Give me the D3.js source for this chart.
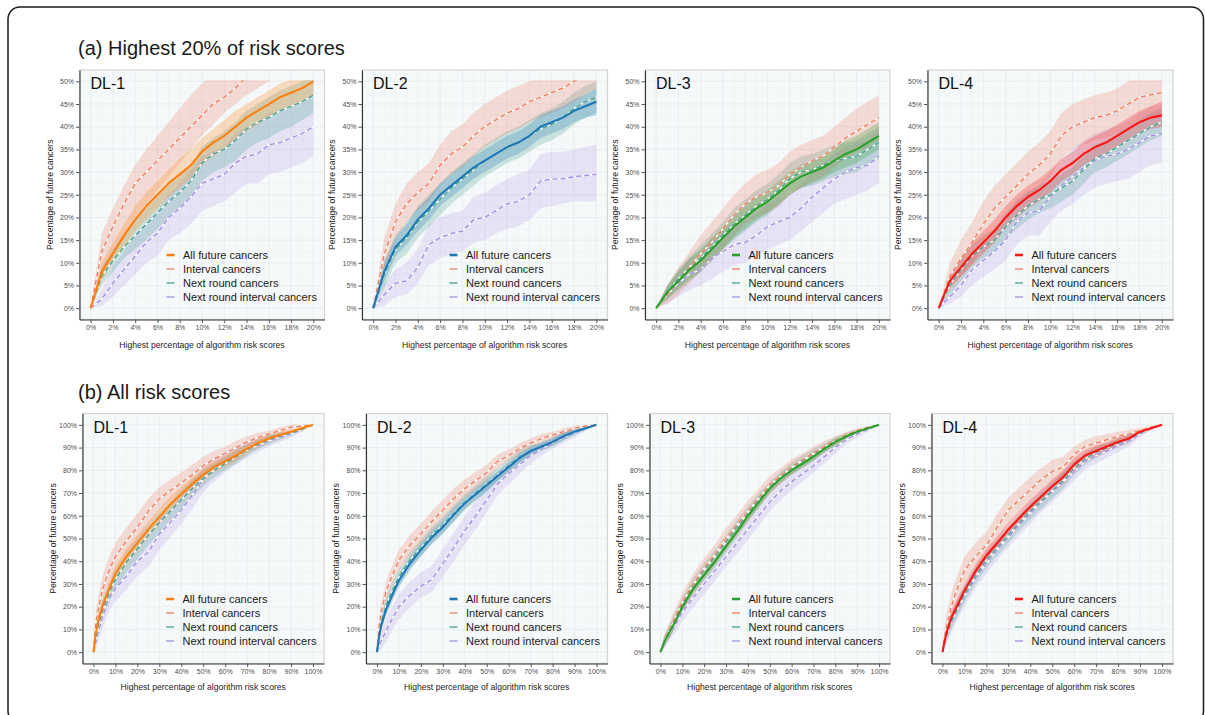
<!DOCTYPE html>
<html>
<head>
<meta charset="utf-8">
<script src="https://cdn.jsdelivr.net/npm/d3@7"></script>
<style>
body { margin: 0; background: #fff; }
svg { display: block; font-family: "Liberation Sans", Arial, Helvetica, sans-serif; }
</style>
</head>
<body>
<svg id="canvas"></svg>
<script>
const w = 1205,
h = 715;

// x positions of the curves (percent of highest risk scores)
const xTop = [0,1,2,3,4,5,6,7,8,9,10,11,12,13,14,15,16,17,18,19,20];
const xAll = [0,1,2,4,6,8,10,15,20,25,30,35,40,45,50,55,60,65,70,75,80,85,90,95,100];

const seriesNames = ["All future cancers", "Interval cancers", "Next round cancers", "Next round interval cancers"];
const modelNames = ["DL-1", "DL-2", "DL-3", "DL-4"];
const modelColors = ["#ff7f0e", "#1f77b4", "#2ca02c", "#ff1414"];
const otherColors = ["#ec7a5c", "#3f9e89", "#a38ce0"];

const topXTicks = [0,2,4,6,8,10,12,14,16,18,20];
const topXMinor = [1,3,5,7,9,11,13,15,17,19];
const topYTicks = [0,5,10,15,20,25,30,35,40,45,50];
const topYMinor = [2.5,7.5,12.5,17.5,22.5,27.5,32.5,37.5,42.5,47.5];
const allTicks = [0,10,20,30,40,50,60,70,80,90,100];
const allMinor = [5,15,25,35,45,55,65,75,85,95];

// rows: all future, interval, next round, next round interval
// (a) highest 20%
const topDL1 = [
  [0,8,12,16,19.5,22.5,25,27.5,29.5,31.5,34.5,36.5,38,40,42,43.5,45,46.5,47.5,48.5,50],
  [0,12.5,18,23,27.5,30,32.5,35,37.5,40,42.5,45,46.5,48.5,51,53,55,57,59,61,63],
  [0,7,10.5,13.5,16,18.5,21,23.5,25.5,28,32,34,35,37,39.5,41,42,43.5,44.5,45.5,47],
  [0,2,5.5,8.5,11.5,14.5,16.5,20,22,24.5,27.5,28.5,29.5,32,33.5,34,36,36.5,37.5,38.5,40]];
const topDL1Lo = [
  [0,6,10,13.5,17,19.5,22,24.5,26.5,28.5,31.5,33.5,35,37,39,40.5,42,43.5,44.5,45.5,47],
  [0,7,12,16,20,23,26,29,32,35,38,40.5,43,45,47,48.5,50,52,54,56,58],
  [0,5,8,11,13,15,17.5,20,22,24.5,28,30,31,32.5,35,36.5,37.5,39,40,41.5,43],
  [0,0.5,2.5,5,7.5,10,11.5,15,16.5,18.5,21.5,22.5,23.5,25.5,27.5,27.5,29.5,30,31,32,33.5]];
const topDL1Hi = [
  [0,10,14.5,18.5,22.5,25.5,28,30.5,33,35,37.5,39.5,41.5,43.5,45,46.5,48,49.5,50.5,51.5,53],
  [0,16.5,22,27,31.5,35,38,41,44,47,49.5,52,55,57,60,62,64,66,68,70,72],
  [0,9,13,16.5,19.5,22,24.5,27,29,31.5,35.5,37.5,39,41,43.5,45,46.5,48,49,50,51],
  [0,4,9,12.5,16,19,21.5,25,27.5,30.5,33.5,34.5,35.5,38.5,40,41,43,43.5,44.5,45.5,47]];

const topDL2 = [
  [0,8,13.5,16,19.5,22,25,27,29,31,32.5,34,35.5,36.5,38,40,41,42,43.5,44.5,45.5],
  [0,12,19,23,25.5,27.5,31.5,34,35.5,38,40,41.5,43,44,45.5,46.5,47.5,48.5,50,51.5,53],
  [0,7.5,13,15.5,19,21.5,24,26.5,28.5,30.5,32.5,34,35.5,36.5,38,39.5,40.5,42,44,45.5,46.5],
  [0,3,5.5,6,9,14,15.5,16.5,17,19.5,20,21.5,23,23.5,25,28,28.5,28.5,29,29.2,29.5]];
const topDL2Lo = [
  [0,6,11.5,14,17,19.5,22.5,24.5,26.5,28.5,30,31.5,33,34,35.5,37.5,38.5,39.5,41,42,42.5],
  [0,8,15,19,21.5,23.5,27,29.5,31,33.5,35.5,37,38.5,39.5,41,42,43,44,45.5,47,48.5],
  [0,4.5,10,12,15.5,18,20.5,23,25,27,29,30.5,32,33,34.5,36,37,38.5,40.5,42,43],
  [0,0.5,2.5,3,5.5,9.5,11,12,12.5,14.5,15,16.5,17.5,18,19.5,22,22.5,23,23.5,23.5,23.5]];
const topDL2Hi = [
  [0,10,15.5,18.5,22,24.5,27.5,29.5,31.5,33.5,35,36.5,38,39,40.5,42.5,43.5,44.5,46,47,48.5],
  [0,15.5,23,27.5,30,32,36,39,40.5,43,45,46.5,48,49,50,51,52,53,54.5,56,57.5],
  [0,10.5,16,19,22.5,25,27.5,30,32,34,36,37.5,39,40,41.5,43,44,45.5,47.5,49,50],
  [0,5.5,8.5,10,13,18.5,20,21,21.5,24.5,25.5,27,28.5,29.5,30.5,34,34.5,34.5,35,35.5,36]];

const topDL3 = [
  [0,3.5,6,8.5,10.5,13,15.5,18,20,22,23.5,25.5,27.5,29,30,31,32.5,34,35,36.5,38],
  [0,3,6,9,12,14.5,17.5,20.5,23,24.5,25.5,27,29.5,31,32.5,33.5,35.5,37.5,39,40.5,42],
  [0,3.5,6.5,9,11,13.5,16,18.5,20.5,22.5,24,26,28.5,30,30.5,31.5,32.5,33,33.5,35,36.5],
  [0,3,5.5,7.5,8.5,11,12.5,14,14.5,16,18,19,20,22,24.5,26.5,28.5,30,31,31.5,33.5]];
const topDL3Lo = [
  [0,2,4,6,8,10.5,13,15.5,17.5,19.5,21,23,25,26.5,27.5,28.5,30,31,32,33.5,35],
  [0,1,3,5.5,8,10.5,13,16,18.5,20,21,22.5,25,26.5,28,29,31,33,34.5,35.5,37],
  [0,2,4.5,6.5,8,10.5,13,15,17,19,20.5,22.5,25,26.5,27,28,29,29.5,30,31.5,33],
  [0,1,2.5,4,5,6.5,8,9.5,10,11.5,13,14,15,17,19,21,23,24,25,26,27.5]];
const topDL3Hi = [
  [0,5,8,11,13,15.5,18,20.5,22.5,24.5,26,28,30,31.5,32.5,33.5,35,37,38,39.5,41],
  [0,5,9,12.5,16,19,22,25,27.5,29.5,30.5,32,34.5,36,37,38,40,42,44,45.5,47],
  [0,5,8.5,11.5,14,16.5,19,22,24,26,27.5,29.5,32,33.5,34,35,36,36.5,37,38.5,40],
  [0,5,8.5,11,12.5,15.5,17,19,19.5,21,23,24,25,27.5,30,32,34,35.5,36.5,37,39.5]];

const topDL4 = [
  [0,6,9,12,14.5,17,20,22.5,24.5,26,28,30.5,32,34,35.5,36.5,38,39.5,41,42,42.5],
  [0,7,11,14.5,18.5,22,24.5,27,29.5,31.5,34,38,40,41,42,42.5,43.5,45,46.5,47,47.5],
  [0,5,8.5,11.5,13.5,15,18,20.5,22.5,24,25,26.5,28,30.5,33,34,35.5,37,38.5,40,41],
  [0,2.5,5,8.5,10.5,12.5,15,19,21,21.5,24.5,27,29,31,32.5,33.5,34,35,36.5,38,38.5]];
const topDL4Lo = [
  [0,4.5,7,9.5,12,14.5,17.5,20,22,23.5,25.5,28,29.5,31.5,33,34,35.5,37,38.5,39.5,40],
  [0,4,7,10,13.5,17,19.5,22,24.5,26.5,29,33,35,36,37,37.5,38.5,40,41.5,42,42.5],
  [0,3,6,9,11,12.5,15,17.5,19.5,21,22,23.5,25,27.5,30,31,32.5,34,35.5,37,38],
  [0,1,2.5,5,7,8.5,10.5,14,16,16,19,21.5,23,25,26.5,27.5,28,28.5,30,31.5,32]];
const topDL4Hi = [
  [0,7.5,11,14.5,17,19.5,22.5,25,27,28.5,30.5,33,34.5,36.5,38,39,40.5,42,43.5,44.5,45.5],
  [0,10,15,19,23.5,27,29.5,32,34.5,36.5,39,43,45,46,47,47.5,48.5,50,51.5,52,52.5],
  [0,7,11,14,16,17.5,21,23.5,25.5,27,28,29.5,31,33.5,36,37,38.5,40,41.5,43,44],
  [0,4,7.5,12,14,16.5,19.5,24,26,27,30,32.5,35,37,38.5,39.5,40,41.5,43,44.5,45]];

// (b) all risk scores
const allDL1 = [
  [0,8,13,20,25,30,34.5,42,48,54,59.5,65,69.5,74,78,81.5,84,86.5,89.5,92,94,95.5,97,98.5,100],
  [0,12,18,27,33,38,42,49,55,62,67.5,71,74.5,78,82,85,87.5,90,92.5,94.5,96,97.5,99,99.5,100],
  [0,6,11,18,23,28,32,39.5,45.5,51.5,57,62,67,72,76.5,80,83,86,89,91.5,93.5,95,96.5,98,100],
  [0,4,8,15,21,25,28,33.5,40,44,52,57,62.5,69,76,80,83.5,86.5,89,91,93,94.5,96,98,100]];
const allDL1Lo = [
  [0,5.5,10,16.5,21.5,26.5,31,38.5,44.5,50.5,56,61.5,66.5,71,75,79,81.5,84,87.5,90,92.5,94,96,98,100],
  [0,7,12.5,21,27,32,36,43,49,56,62,66,70,73.5,78,81.5,84,87,90,92.5,94.5,96,98,99,100],
  [0,3.5,7.5,14,19,24,27.5,35,41,47,52.5,58,63,68,73,77,80,83,86.5,89.5,91.5,93.5,95.5,97.5,100],
  [0,1,4,10,15.5,19.5,22.5,27.5,33.5,37.5,45,50.5,56.5,63,70.5,75,79,82.5,85.5,88,90.5,92.5,94.5,97,100]];
const allDL1Hi = [
  [0,10.5,16,23.5,28.5,33.5,38,45.5,51.5,57.5,63,68.5,72.5,77,81,84,86.5,89,91.5,94,95.5,97,98,99,100],
  [0,17,23.5,33,39,44,48,55,61,67.5,72.5,76,79,82.5,86,88.5,90.5,93,95,96.5,97.5,99,100,100,100],
  [0,8.5,14.5,22,27,32,36.5,44,50,56,61.5,66,71,76,80,83,86,89,91.5,93.5,95.5,96.5,97.5,98.5,100],
  [0,7,12,20,26.5,30.5,33.5,40,46.5,50.5,59,63.5,68.5,75,81,85,88,90.5,92.5,94,95.5,96.5,97.5,99,100]];

const allDL2 = [
  [0,7,12,18.5,23,27.5,31.5,39,45,50.5,55,60.5,65.5,69.5,73.5,77.5,81.5,85.5,88.5,90.5,92.5,95,97,98.5,100],
  [0,12,18,26,31.5,36,40.5,47,52,57.5,62.5,67.5,72,75.5,79,84,86.5,89.5,92,94,95.5,97,98.5,99.5,100],
  [0,8,13,20,25,29,33,40.5,46,51.5,56,61,66,70,74,78,82,86,88.5,90.5,92.5,95,97,98.5,100],
  [0,3,5,9,13,16.5,20,25,29,32,39,46,53.5,60,67,74,78.5,82.5,86.5,89.5,92,94.5,96.5,98.5,100]];
const allDL2Lo = [
  [0,5,9.5,15.5,20,24.5,28.5,36,42,47.5,52,57.5,63,67,71,75.5,79.5,83.5,86.5,89,91,93.5,96,98,100],
  [0,8,14,21.5,27,31.5,36,42.5,47.5,53,58,63,68,71.5,75.5,81,84,87,90,92,94,95.5,97.5,99,100],
  [0,5,10,16.5,21.5,25.5,29.5,37,42.5,48,52.5,57.5,62.5,66.5,70.5,75,79,83,86,88.5,90.5,93,95.5,97.5,100],
  [0,0.5,1.5,4.5,8,11.5,14.5,19.5,24,26.5,33,40,47.5,54,61.5,69,74,78.5,83,86.5,89.5,92,94.5,97.5,100]];
const allDL2Hi = [
  [0,9,14.5,21.5,26,30.5,34.5,42,48,53.5,58,63.5,68,72,76,79.5,83.5,87.5,90.5,92,94,96.5,98,99,100],
  [0,16,22,30.5,36,40.5,45,51.5,56.5,62,67,72,76,79.5,82.5,87,89,92,94,96,97,98.5,99.5,100,100],
  [0,11,16,23.5,28.5,32.5,36.5,44,49.5,55,59.5,64.5,69.5,73.5,77.5,81,85,89,91,92.5,94.5,97,98.5,99.5,100],
  [0,6,9,14,18.5,22,25.5,31,35,38,45.5,52.5,60,66.5,72.5,79,83,86.5,90,92.5,94.5,96.5,98,99.5,100]];

const allDL3 = [
  [0,2.5,5,8.5,12,16,20,28,34,40,46.5,53,60,66,72,76.5,80,83,86,89.5,92.5,95,97,98.5,100],
  [0,3,5.5,9.5,13.5,18,22,30,37,43,50,56,62,68,73.5,77.5,81.5,84.5,87.5,90.5,93,95.5,97.5,99,100],
  [0,3,5.5,9,13,17,21,29.5,36,42,48.5,55,61,67,72.5,77,81,84,87,90,92.5,95,97,98.5,100],
  [0,2.5,4.5,8,11,14,17.5,24,30,36,42,48,54,60,66,71,75,78.5,82,86,90,93.5,96,98,100]];
const allDL3Lo = [
  [0,1,3,6,9.5,13.5,17.5,25.5,31.5,37.5,44,50.5,57.5,63.5,70,74.5,78,81,84,88,91,94,96,98,100],
  [0,1,2.5,6,9.5,14,18,25.5,32.5,38.5,45.5,51.5,57.5,64,69.5,74,78,81.5,84.5,88,91,94,96.5,98.5,100],
  [0,1.5,3.5,6.5,10,14,18,26.5,33,39,45.5,52,58,64,70,74.5,78.5,81.5,84.5,88,90.5,93.5,96,98,100],
  [0,1,2,5,7.5,10,13.5,19.5,25.5,31.5,37.5,43.5,49.5,55.5,62,67,71,75,79,83,87.5,91.5,94.5,97,100]];
const allDL3Hi = [
  [0,4,7,11,14.5,18.5,22.5,30.5,36.5,42.5,49,55.5,62.5,68.5,74,78.5,82,85,88,91,94,96,98,99,100],
  [0,5,8.5,13,17.5,22,26,34.5,41.5,47.5,54.5,60.5,66.5,72,77.5,81,85,87.5,90.5,93,95,97,98.5,99.5,100],
  [0,4.5,7.5,11.5,16,20,24,32.5,39,45,51.5,58,64,70,75,79.5,83.5,86.5,89.5,92,94.5,96.5,98,99,100],
  [0,4.5,7,11,14.5,18,21.5,28.5,34.5,40.5,46.5,52.5,58.5,64.5,70,75,79,82,85,89,92.5,95.5,97.5,99,100]];

const allDL4 = [
  [0,5,9,15,19,23,27,35.5,42.5,48,54,59,64,68.5,73,77,82.5,86.5,88.5,90.5,92.5,94,97,98.5,100],
  [0,7,12,20,26,31,36,42,47,55,62.5,67,71.5,76,79.5,81.5,87,90.5,92,93.5,95,96,97.5,99,100],
  [0,4.5,8,13.5,17.5,21.5,25.5,33.5,40.5,46,51.5,57,62,66.5,71,75.5,81,85,88,90,92,94,96.5,98.5,100],
  [0,4,7.5,13,17,21,24.5,32.5,39,45,50.5,56,61,66,70.5,75,79.5,84,86.5,88.5,91,93,96,98.5,100]];
const allDL4Lo = [
  [0,3,6.5,12,16,20,24,32.5,39.5,45,51,56,61,65.5,70,74,79.5,84,86,88.5,90.5,92.5,96,98,100],
  [0,3,7,14,20,25,30,36,41,49,56.5,61.5,66,70.5,74.5,77,83,87,89,90.5,92.5,94,96.5,98.5,100],
  [0,2,5,10,14,18,22,30,37,42.5,48,53.5,58.5,63,67.5,72,78,82.5,85.5,88,90,92,95.5,98,100],
  [0,1.5,4,9,12.5,16.5,20,28,34.5,40.5,46,51.5,56.5,61.5,66,70.5,75.5,80.5,83,85.5,88,90.5,94.5,97.5,100]];
const allDL4Hi = [
  [0,7.5,11.5,18,22,26,30,38.5,45.5,51,57,62,67,71.5,76,80,85.5,89,91,92.5,94.5,95.5,98,99,100],
  [0,12,17.5,26,32,37,42,48,53,61,68,72.5,77,81,84.5,86,90.5,93.5,95,96,97,98,98.5,99.5,100],
  [0,7,11,17,21,25,29,37,44,49.5,55,60.5,65.5,70,74.5,79,84,87.5,90.5,92,94,96,97.5,99,100],
  [0,7,11,17,21.5,25.5,29,37,43.5,49.5,55,60.5,65.5,70.5,75,79.5,83.5,87.5,90,91.5,93.5,95.5,97.5,99,100]];

const svg = d3.select("#canvas")
  .attr("width", w)
  .attr("height", h);

// frame round the figure (runs off the bottom of the picture)
svg.append("rect")
  .attr("x", 8).attr("y", 7)
  .attr("width", 1195.5).attr("height", 716)
  .attr("rx", 12)
  .style("fill", "none")
  .style("stroke", "#1a1a1a")
  .style("stroke-width", 1.5);

svg.append("text").attr("x", 78).attr("y", 55)
  .style("font-size", "20px").style("fill", "#1a1a1a")
  .text("(a) Highest 20% of risk scores");
svg.append("text").attr("x", 78).attr("y", 399)
  .style("font-size", "20px").style("fill", "#1a1a1a")
  .text("(b) All risk scores");

// panel layout
const topLefts = [79.5, 362, 645, 927.5], topRights = [324.5, 607.5, 890, 1173];
const allLefts = [82.5, 366, 649.5, 931.5], allRights = [324, 607.5, 890, 1173];

const topMid = [topDL1, topDL2, topDL3, topDL4],
topLo = [topDL1Lo, topDL2Lo, topDL3Lo, topDL4Lo],
topHi = [topDL1Hi, topDL2Hi, topDL3Hi, topDL4Hi],
allMid = [allDL1, allDL2, allDL3, allDL4],
allLo = [allDL1Lo, allDL2Lo, allDL3Lo, allDL4Lo],
allHi = [allDL1Hi, allDL2Hi, allDL3Hi, allDL4Hi];

function drawPanel(p) {
  const g = svg.append("g");
  const x = d3.scaleLinear().domain([-p.xMax * 0.05, p.xMax * 1.05]).range([p.left, p.right]);
  const y = d3.scaleLinear().domain([-p.yMax * 0.05, p.yMax * 1.05]).range([p.bottom, p.top]);
  const colors = [p.color].concat(otherColors);

  g.append("rect")
    .attr("x", p.left).attr("y", p.top)
    .attr("width", p.right - p.left).attr("height", p.bottom - p.top)
    .style("fill", "#f6f9fa")
    .style("stroke", "#d4d4d4")
    .style("stroke-width", 1.2);

  // grid
  const grid = (vals, vert, col) => g.append("g").selectAll("line")
    .data(vals).enter().append("line")
      .attr("x1", d => vert ? x(d) : p.left)
      .attr("x2", d => vert ? x(d) : p.right)
      .attr("y1", d => vert ? p.top : y(d))
      .attr("y2", d => vert ? p.bottom : y(d))
      .style("stroke", col)
      .style("stroke-width", 0.6);
  grid(p.xMinor, true, "#eef1f2");
  grid(p.yMinor, false, "#eef1f2");
  grid(p.xTicks, true, "#e2e6e8");
  grid(p.yTicks, false, "#e2e6e8");

  // clip at the top of the scale
  const clipId = "clip-" + p.id;
  g.append("clipPath").attr("id", clipId)
    .append("rect")
      .attr("x", p.left).attr("y", y(p.yMax) - 1.2)
      .attr("width", p.right - p.left).attr("height", p.bottom - y(p.yMax) + 1.2);
  const plot = g.append("g").attr("clip-path", "url(#" + clipId + ")");

  const area = d3.area()
    .x((d, j) => x(p.xs[j]))
    .y0(d => y(d[0]))
    .y1(d => y(d[1]));
  const line = d3.line()
    .x((d, j) => x(p.xs[j]))
    .y(d => y(d));

  const order = [3, 2, 1, 0];
  order.forEach(k => {
    plot.append("path")
      .datum(p.lo[k].map((v, j) => [v, p.hi[k][j]]))
      .attr("d", area)
      .style("fill", colors[k])
      .style("fill-opacity", k == 0 ? 0.25 : (k == 3 ? 0.2 : 0.24));
  });
  order.forEach(k => {
    if (k > 0) {
      plot.append("path").datum(p.mid[k]).attr("d", line)
        .style("fill", "none").style("stroke", "#fff").style("stroke-width", 1.3);
      plot.append("path").datum(p.mid[k]).attr("d", line)
        .style("fill", "none").style("stroke", colors[k])
        .style("stroke-width", 1.3).style("stroke-dasharray", "5,3");
    } else {
      plot.append("path").datum(p.mid[k]).attr("d", line)
        .style("fill", "none").style("stroke", colors[k])
        .style("stroke-width", 2.1).style("stroke-linejoin", "round");
    }
  });

  // axes
  const yAxis = g.append("g")
    .attr("transform", "translate(" + p.left + ",0)")
    .call(d3.axisLeft(y).tickValues(p.yTicks).tickFormat(d => d + "%")
      .tickSize(3.5).tickSizeOuter(0).tickPadding(2));
  const xAxis = g.append("g")
    .attr("transform", "translate(0," + p.bottom + ")")
    .call(d3.axisBottom(x).tickValues(p.xTicks).tickFormat(d => d + "%")
      .tickSize(3.5).tickSizeOuter(0).tickPadding(2.5));
  [yAxis, xAxis].forEach(a => {
    a.attr("font-family", null).attr("font-size", null);
    a.select(".domain").style("stroke", "#333").style("stroke-width", 1.1);
    a.selectAll(".tick line").style("stroke", "#555");
    a.selectAll("text").style("font-size", "7px").style("fill", "#4d4d4d");
  });

  g.append("text")
    .attr("transform", "translate(" + (p.left - 27) + "," + ((p.top + p.bottom) / 2) + ") rotate(-90)")
    .attr("text-anchor", "middle")
    .style("font-size", "8.6px").style("fill", "#222")
    .text("Percentage of future cancers");
  g.append("text")
    .attr("x", (p.left + p.right) / 2).attr("y", p.bottom + p.titleGap)
    .attr("text-anchor", "middle")
    .style("font-size", "8.6px").style("fill", "#222")
    .text("Highest percentage of algorithm risk scores");

  g.append("text")
    .attr("x", p.left + 11).attr("y", p.top + 19)
    .style("font-size", "16px").style("fill", "#111")
    .text(p.name);

  // legend
  const lg = g.append("g")
    .attr("transform", "translate(" + (p.right - 158) + "," + (p.bottom - 64.5) + ")");
  const rows = lg.selectAll("g").data(seriesNames).enter().append("g")
    .attr("transform", (d, k) => "translate(0," + k * 14 + ")");
  rows.append("line")
    .attr("x1", 0).attr("x2", 8).attr("y1", 0).attr("y2", 0)
    .style("stroke", (d, k) => colors[k])
    .style("stroke-width", (d, k) => k == 0 ? 2.6 : 1.8)
    .style("stroke-opacity", (d, k) => k == 0 ? 1 : 0.7);
  rows.append("text")
    .attr("x", 16.5).attr("y", 3.8)
    .style("font-size", "11px").style("fill", "#1a1a1a")
    .text(d => d);
}

modelNames.forEach((name, i) => {
  drawPanel({
    id: "a" + i, name: name, color: modelColors[i],
    left: topLefts[i], right: topRights[i], top: 70, bottom: 319.5, titleGap: 28.5,
    xMax: 20, yMax: 50, xs: xTop,
    xTicks: topXTicks, xMinor: topXMinor, yTicks: topYTicks, yMinor: topYMinor,
    mid: topMid[i], lo: topLo[i], hi: topHi[i]
  });
  drawPanel({
    id: "b" + i, name: name, color: modelColors[i],
    left: allLefts[i], right: allRights[i], top: 413.5, bottom: 663.5, titleGap: 26,
    xMax: 100, yMax: 100, xs: xAll,
    xTicks: allTicks, xMinor: allMinor, yTicks: allTicks, yMinor: allMinor,
    mid: allMid[i], lo: allLo[i], hi: allHi[i]
  });
});
</script>
</body>
</html>
